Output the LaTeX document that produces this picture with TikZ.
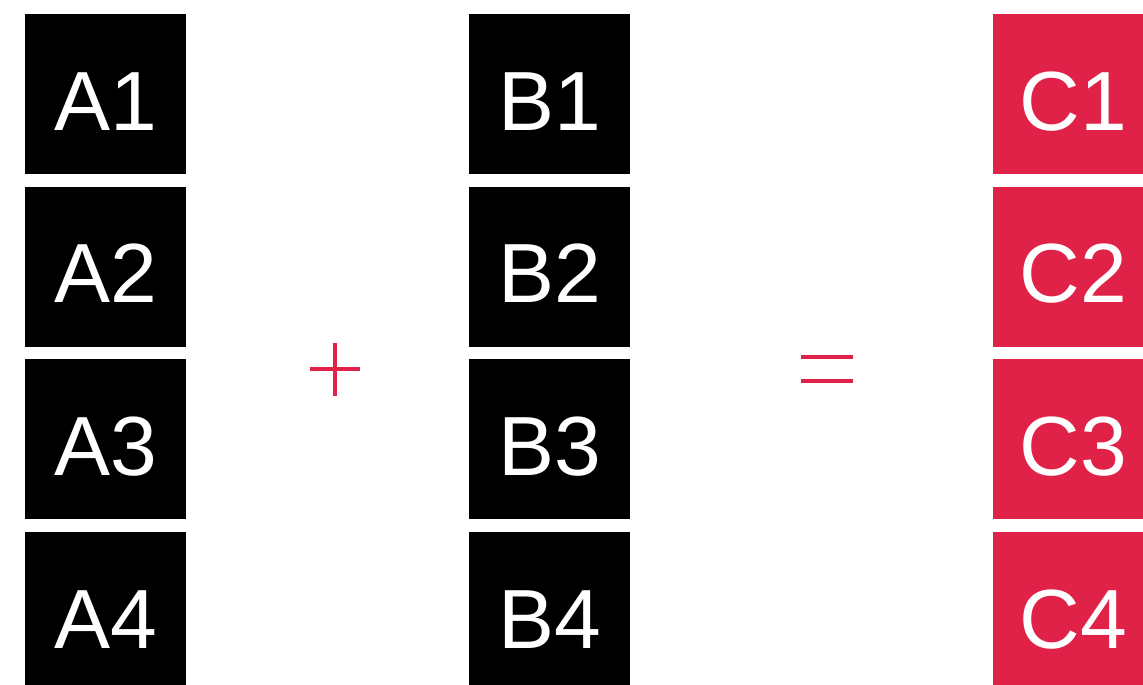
\documentclass[tikz,border=0pt]{standalone}
\usepackage{fontspec}
\setmainfont{Liberation Sans}
\definecolor{crimson}{RGB}{225,34,72}
\begin{document}
\begin{tikzpicture}[x=1pt,y=-1pt,
  cell/.style={rectangle,inner sep=0pt,minimum width=161pt,minimum height=160pt,
    text height=100pt,text depth=28pt,text=white,
    font=\fontsize{84}{84}\selectfont},
  blackcell/.style={cell,fill=black},
  redcell/.style={cell,fill=crimson},
  sym/.style={draw=crimson,line width=4.5pt}]
\useasboundingbox (0,0) rectangle (1143,685);
\clip (0,0) rectangle (1143,685);
\foreach \r/\y in {1/94,2/266.7,3/439.3,4/612}{
  \node[blackcell] (A\r) at (105.5,\y) {A\r};
  \node[blackcell] (B\r) at (549.5,\y) {B\r};
  \node[redcell] (C\r) at (1073.5,\y) {C\r};
}
\draw[sym] (310,369) -- (360,369);
\draw[sym] (335,343) -- (335,396);
\draw[sym] (801,357) -- (853,357);
\draw[sym] (801,381) -- (853,381);
\end{tikzpicture}
\end{document}
